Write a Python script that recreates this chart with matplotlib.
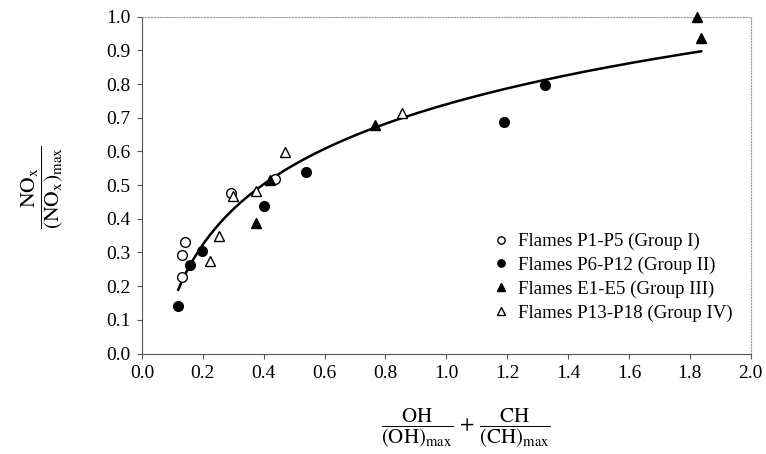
import numpy as np
import matplotlib.pyplot as plt

plt.rcParams['font.family'] = ['Liberation Serif', 'DejaVu Serif']
plt.rcParams['mathtext.fontset'] = 'stix'

# data
g1_x = [0.130, 0.130, 0.141, 0.291, 0.437]
g1_y = [0.228, 0.291, 0.330, 0.477, 0.518]
g2_x = [0.119, 0.158, 0.197, 0.402, 0.539, 1.190, 1.324]
g2_y = [0.142, 0.264, 0.304, 0.439, 0.538, 0.687, 0.797]
g3_x = [0.375, 0.421, 0.766, 1.823, 1.837]
g3_y = [0.387, 0.515, 0.678, 0.998, 0.937]
g4_x = [0.223, 0.254, 0.300, 0.375, 0.470, 0.854]
g4_y = [0.276, 0.348, 0.469, 0.482, 0.597, 0.715]
labels = ['Flames P1-P5 (Group I)', 'Flames P6-P12 (Group II)',
          'Flames E1-E5 (Group III)', 'Flames P13-P18 (Group IV)']

# logarithmic trendline through all points
all_x = np.array(g1_x + g2_x + g3_x + g4_x)
all_y = np.array(g1_y + g2_y + g3_y + g4_y)
a, b = np.polyfit(np.log(all_x), all_y, 1)
xf = np.linspace(all_x.min(), all_x.max(), 200)
yf = a * np.log(xf) + b

fig = plt.figure(figsize=(7.66, 4.54), dpi=100)
ax = fig.add_axes([142/766, 1-353.5/454, (750.7-142)/766, (353.5-16.7)/454])

ax.plot(xf, yf, color='black', lw=1.8, zorder=2)
ms = 7
ax.plot(g1_x, g1_y, 'o', mfc='white', mec='black', mew=1.0, ms=ms, label=labels[0], zorder=3)
ax.plot(g2_x, g2_y, 'o', color='black', ms=ms, label=labels[1], zorder=3)
ax.plot(g3_x, g3_y, '^', color='black', ms=ms, label=labels[2], zorder=3)
ax.plot(g4_x, g4_y, '^', mfc='white', mec='black', mew=1.0, ms=ms, label=labels[3], zorder=3)

ax.set_xlim(0, 2.0)
ax.set_ylim(0, 1.0)
ax.set_xticks(np.arange(0, 2.01, 0.2))
ax.set_yticks(np.arange(0, 1.01, 0.1))
ax.xaxis.set_major_formatter(plt.FormatStrFormatter('%.1f'))
ax.yaxis.set_major_formatter(plt.FormatStrFormatter('%.1f'))
ax.tick_params(labelsize=14, direction='out', length=3.5, width=0.8, color='#555555', pad=5)
for line in ax.lines:
    line.set_clip_on(False)

for s in ['left', 'bottom']:
    ax.spines[s].set_color('#555555')
    ax.spines[s].set_linewidth(0.8)
for s in ['top', 'right']:
    ax.spines[s].set_color('#999999')
    ax.spines[s].set_linewidth(0.8)
    ax.spines[s].set_linestyle(':')

ax.legend(loc='upper left', bbox_to_anchor=(493/766, 1-233/454), bbox_transform=fig.transFigure,
          frameon=False, fontsize=13.6, markerscale=0.75, handlelength=0.8,
          handletextpad=0.5, labelspacing=0.34, borderpad=0, borderaxespad=0)

fig.text(43/766, 1-187/454, r'$\dfrac{\mathrm{NO_x}}{\mathrm{(NO_x)_{max}}}$',
         rotation=90, ha='center', va='center', fontsize=15.5)
fig.text(466/766, 1-428/454,
         r'$\dfrac{\mathrm{OH}}{\mathrm{(OH)_{max}}}\,+\,\dfrac{\mathrm{CH}}{\mathrm{(CH)_{max}}}$',
         ha='center', va='center', fontsize=15)

fig.savefig('out.png', dpi=100)
